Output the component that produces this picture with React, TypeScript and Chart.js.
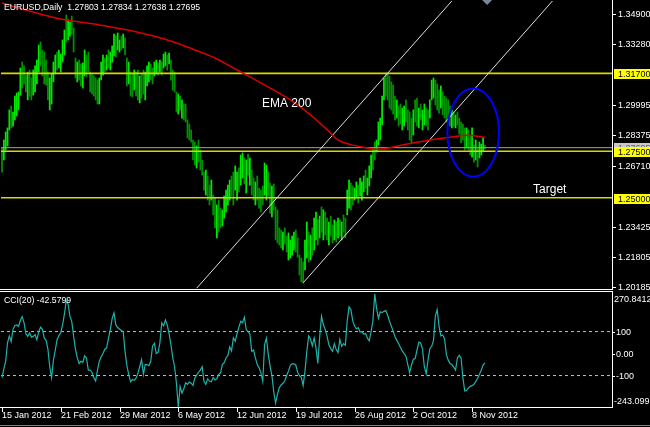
import React, { useEffect, useRef } from "react";
import { Chart, registerables } from "chart.js";

Chart.register(...registerables);

// ---------------- data ----------------
const SYMBOL_HEADER = "EURUSD,Daily  1.27803 1.27834 1.27638 1.27695";
const CCI_HEADER = "CCI(20) -42.5799";

const DATE_TICK_INDEX = [0, 32, 64, 96, 128, 160, 192, 224, 256];
const DATE_TICK_LABELS = [
  "15 Jan 2012", "21 Feb 2012", "29 Mar 2012", "6 May 2012", "12 Jun 2012",
  "19 Jul 2012", "26 Aug 2012", "2 Oct 2012", "8 Nov 2012",
];

const HIGHS = [
  1.2768, 1.2811, 1.2854, 1.2876, 1.2973, 1.2994, 1.2962, 1.3048, 1.3064, 1.3070,
  1.3199, 1.3231, 1.3210, 1.3161, 1.3177, 1.3188, 1.3145, 1.3188, 1.3210, 1.3242,
  1.3323, 1.3339, 1.3296, 1.3285, 1.3242, 1.3177, 1.3145, 1.3167, 1.3231, 1.3269,
  1.3285, 1.3296, 1.3274, 1.3350, 1.3404, 1.3485, 1.3458, 1.3447, 1.3479, 1.3415,
  1.3253, 1.3231, 1.3242, 1.3221, 1.3226, 1.3296, 1.3269, 1.3285, 1.3177, 1.3167,
  1.3156, 1.3145, 1.3134, 1.3145, 1.3231, 1.3269, 1.3253, 1.3269, 1.3296, 1.3285,
  1.3318, 1.3382, 1.3371, 1.3388, 1.3350, 1.3371, 1.3382, 1.3361, 1.3253, 1.3231,
  1.3177, 1.3167, 1.3188, 1.3177, 1.3188, 1.3156, 1.3167, 1.3188, 1.3177, 1.3210,
  1.3231, 1.3221, 1.3199, 1.3231, 1.3242, 1.3226, 1.3242, 1.3231, 1.3274, 1.3285,
  1.3269, 1.3280, 1.3242, 1.3188, 1.3177, 1.3070, 1.3059, 1.3048, 1.3027, 1.3005,
  1.3005, 1.2919, 1.2897, 1.2865, 1.2811, 1.2800, 1.2779, 1.2811, 1.2757, 1.2703,
  1.2638, 1.2649, 1.2617, 1.2568, 1.2595, 1.2514, 1.2498, 1.2461, 1.2487, 1.2444,
  1.2434, 1.2509, 1.2541, 1.2568, 1.2595, 1.2617, 1.2638, 1.2671, 1.2638, 1.2660,
  1.2730, 1.2741, 1.2714, 1.2703, 1.2735, 1.2714, 1.2649, 1.2606, 1.2585, 1.2617,
  1.2552, 1.2541, 1.2563, 1.2687, 1.2676, 1.2638, 1.2579, 1.2563, 1.2574, 1.2450,
  1.2434, 1.2337, 1.2326, 1.2315, 1.2337, 1.2293, 1.2310, 1.2272, 1.2293, 1.2315,
  1.2326, 1.2283, 1.2191, 1.2175, 1.2153, 1.2272, 1.2369, 1.2315, 1.2299, 1.2337,
  1.2390, 1.2423, 1.2380, 1.2401, 1.2450, 1.2434, 1.2423, 1.2390, 1.2369, 1.2401,
  1.2353, 1.2380, 1.2369, 1.2390, 1.2380, 1.2369, 1.2407, 1.2390, 1.2541, 1.2595,
  1.2579, 1.2563, 1.2552, 1.2585, 1.2568, 1.2606, 1.2585, 1.2617, 1.2649, 1.2606,
  1.2671, 1.2730, 1.2768, 1.2800, 1.2811, 1.2908, 1.2929, 1.3048, 1.3145, 1.3172,
  1.3167, 1.3156, 1.3124, 1.3107, 1.3048, 1.3027, 1.2994, 1.3005, 1.2983, 1.2994,
  1.3027, 1.2973, 1.2962, 1.2929, 1.2973, 1.3027, 1.3037, 1.2983, 1.3005, 1.2973,
  1.3005, 1.2983, 1.2973, 1.3027, 1.3134, 1.3145, 1.3134, 1.3113, 1.3080, 1.3102,
  1.3070, 1.3048, 1.3037, 1.3027, 1.2994, 1.2973, 1.2962, 1.2946, 1.2962, 1.2929,
  1.2908, 1.2897, 1.2876, 1.2876, 1.2865, 1.2838, 1.2876, 1.2784, 1.2811, 1.2768,
  1.2800, 1.2789, 1.2822, 1.27834,
];

const LOWS = [
  1.2638, 1.2703, 1.2757, 1.2779, 1.2865, 1.2876, 1.2886, 1.2919, 1.2940, 1.2973,
  1.3053, 1.3091, 1.3113, 1.3070, 1.3027, 1.3048, 1.3027, 1.3053, 1.3070, 1.3113,
  1.3177, 1.3210, 1.3156, 1.3113, 1.3107, 1.3027, 1.2973, 1.3005, 1.3124, 1.3167,
  1.3188, 1.3199, 1.3177, 1.3231, 1.3269, 1.3339, 1.3350, 1.3371, 1.3382, 1.3285,
  1.3145, 1.3124, 1.3134, 1.3102, 1.3091, 1.3156, 1.3151, 1.3177, 1.3070, 1.3059,
  1.3048, 1.3027, 1.3005, 1.3005, 1.3134, 1.3161, 1.3177, 1.3188, 1.3199, 1.3188,
  1.3231, 1.3264, 1.3258, 1.3296, 1.3285, 1.3296, 1.3307, 1.3269, 1.3102, 1.3113,
  1.3048, 1.3043, 1.3080, 1.3048, 1.3027, 1.3011, 1.3037, 1.3059, 1.3027, 1.3102,
  1.3124, 1.3134, 1.3113, 1.3156, 1.3167, 1.3161, 1.3177, 1.3161, 1.3199, 1.3210,
  1.3188, 1.3221, 1.3134, 1.3080, 1.3070, 1.2962, 1.2951, 1.2973, 1.2929, 1.2919,
  1.2908, 1.2822, 1.2811, 1.2800, 1.2703, 1.2676, 1.2660, 1.2692, 1.2649, 1.2622,
  1.2541, 1.2514, 1.2487, 1.2461, 1.2487, 1.2407, 1.2337, 1.2283, 1.2315, 1.2337,
  1.2347, 1.2390, 1.2423, 1.2461, 1.2487, 1.2509, 1.2461, 1.2541, 1.2487, 1.2531,
  1.2568, 1.2606, 1.2574, 1.2525, 1.2622, 1.2568, 1.2514, 1.2487, 1.2461, 1.2487,
  1.2444, 1.2423, 1.2461, 1.2514, 1.2487, 1.2509, 1.2417, 1.2396, 1.2434, 1.2272,
  1.2256, 1.2245, 1.2229, 1.2218, 1.2250, 1.2207, 1.2164, 1.2175, 1.2191, 1.2218,
  1.2207, 1.2180, 1.2083, 1.2046, 1.2040, 1.2110, 1.2175, 1.2153, 1.2164, 1.2191,
  1.2218, 1.2272, 1.2245, 1.2283, 1.2315, 1.2272, 1.2299, 1.2272, 1.2245, 1.2293,
  1.2256, 1.2272, 1.2261, 1.2283, 1.2293, 1.2272, 1.2315, 1.2283, 1.2407, 1.2444,
  1.2434, 1.2461, 1.2487, 1.2498, 1.2471, 1.2509, 1.2487, 1.2531, 1.2552, 1.2514,
  1.2563, 1.2606, 1.2649, 1.2703, 1.2746, 1.2784, 1.2811, 1.2892, 1.3027, 1.3048,
  1.3027, 1.2983, 1.2973, 1.2951, 1.2919, 1.2929, 1.2886, 1.2897, 1.2865, 1.2886,
  1.2908, 1.2865, 1.2811, 1.2795, 1.2838, 1.2908, 1.2886, 1.2876, 1.2919, 1.2865,
  1.2892, 1.2886, 1.2865, 1.2929, 1.3027, 1.3037, 1.3000, 1.2973, 1.2956, 1.2983,
  1.2946, 1.2929, 1.2908, 1.2897, 1.2886, 1.2876, 1.2886, 1.2876, 1.2892, 1.2843,
  1.2795, 1.2811, 1.2757, 1.2768, 1.2757, 1.2730, 1.2719, 1.2692, 1.2703, 1.2665,
  1.2714, 1.2730, 1.2746, 1.27638,
];

// u = bar closed up, d = bar closed down
const BAR_DIRECTION = [
  "duuuuduuuu", "udddudduuu", "uddddduuuu", "duuuuduudd", "dudduudddd",
  "ddduuududu", "uuduududdu", "dduddudduu", "udduududuu", "duddddudud",
  "dddddduddd", "dudduddudd", "uuuuudduud", "uudududdud", "ddduuddudd",
  "dddudduuuu", "ddddduudud", "uudududdud", "dudududduu", "dduuduuudu",
  "uudduuuuud", "dddddudduu", "dddduddudu", "udduuudddu", "dddddududd",
  "ddduddudud", "uuud",
].join("");

const EMA_INDEX = [0, 15, 32, 53, 71, 90, 101, 108, 116, 124, 135, 146, 157, 168, 176, 183, 195, 204, 218, 233, 246, 253, 263];
const EMA_VALUES = [
  1.3549, 1.3506, 1.3463, 1.3431, 1.3398, 1.3350, 1.3312, 1.3285, 1.3253, 1.3210,
  1.3151, 1.3091, 1.3027, 1.2946, 1.2876, 1.2811, 1.2775, 1.2761, 1.2784, 1.2811,
  1.2829, 1.2836, 1.2825,
];

const CCI_VALUES = [
  -110, -70, -35, 49, 80, 55, 110, 128, 130, 124,
  150, 168, 140, 90, 78, 94, 74, 78, 86, 62,
  100, 120, 110, 71, 60, 20, -60, -110, -30, 15,
  64, 82, 95, 130, 180, 240, 225, 170, 145, 80,
  20, -20, -45, -35, -40, -10, -20, -75, -75, -85,
  -110, -125, -75, -35, -15, 0, 20, 26, 70, 110,
  160, 185, 130, 118, 112, 105, 100, 10, -55, -95,
  -128, -118, -122, -112, -90, -60, -28, -95, -50, -50,
  -55, -35, 35, 47, 0, 5, 50, 140, 126, 152,
  130, 90, 40, -20, -60, -135, -243.099, -150, -180, -160,
  -133, -140, -130, -135, -145, -112, -98, -85, -75, -60,
  -126, -140, -115, -125, -128, -110, -120, -115, -95, -88,
  -50, -42, -20, -10, 30, 12, 71, 56, 90, 120,
  147, 140, 165, 109, 100, 88, 10, 16, -20, -50,
  -65, -88, -126, 40, 70, -3, -58, -100, -175, -225,
  -186, -156, -143, -135, -125, -100, -80, -55, -47, -47,
  -52, -85, -100, -108, -145, -80, 10, 80, 66, 35,
  71, 26, -45, 75, 170, 132, 110, 80, 40, 22,
  10, 45, 18, 5, 65, 33, 45, 38, 150, 212,
  200, 150, 125, 112, 118, 98, 100, 88, 92, 70,
  58, 100, 150, 270.8412, 205, 160, 190, 186, 192, 196,
  175, 148, 125, 102, 78, 60, 45, 28, 12, 0,
  -12, -50, -88, -52, -27, -22, 15, 52, 48, 20,
  -60, -92, -30, 22, 33, 60, 170, 200, 125, 80,
  84, 68, -5, -30, -45, -50, -62, -75, -20, -8,
  -20, -110, -170, -168, -156, -149, -146, -140, -128, -112,
  -95, -75, -52, -42.5799,
];

const PRICE_AXIS_TICKS = [1.349, 1.3328, 1.29995, 1.28375, 1.2671, 1.23425, 1.21805, 1.20185];
const PRICE_AXIS_LABELS = ["1.34900", "1.33280", "1.29995", "1.28375", "1.26710", "1.23425", "1.21805", "1.20185"];
const LEVEL_VALUES = [1.317, 1.275, 1.25];
const LEVEL_LABELS = ["1.31700", "1.27500", "1.25000"];
const BID_PRICE = 1.27695;
const BID_LABEL = "1.27695";

const CHANNEL_UPPER_INDEX = [106.0, 245.5];
const CHANNEL_UPPER_PRICE = [1.2012, 1.3566];
const CHANNEL_LOWER_INDEX = [164.1, 300.3];
const CHANNEL_LOWER_PRICE = [1.2042, 1.3566];

const ELLIPSE_INDEX = 256.6;
const ELLIPSE_PRICE = 1.2851;
const ELLIPSE_HALF_BARS = 14.05;
const ELLIPSE_HALF_PRICE = 0.0238;

// chart-shift marker (bar index where the shift triangle sits)
const SHIFT_MARK_INDEX = 264.2;

const NOTE_TEXTS = ["EMA 200", "Target"];
const NOTE_INDEX = [141.6, 289.2];
const NOTE_PRICE = [1.3005, 1.2541];

const CCI_LEVELS = [100, -100];
const CCI_AXIS_TICKS = [100, 0, -100];
const CCI_AXIS_LABELS = ["100", "0.00", "-100"];
const CCI_MAX = 270.8412;
const CCI_MIN = -243.099;
const CCI_MAX_LABEL = "270.8412";
const CCI_MIN_LABEL = "-243.099";

const PRICE_MIN = 1.20078;
const PRICE_MAX = 1.35601;
const INDEX_MIN = -0.545;
const INDEX_MAX = 332.2;

// ---------------- styling ----------------
const FONT = '9px "Liberation Sans", Arial, sans-serif';
const HEADER_FONT = '8.7px "Liberation Sans", Arial, sans-serif';
const NOTE_FONT = '12px "Liberation Sans", Arial, sans-serif';
const FG = "#ffffff";
const UP_COLOR = "#00e800";
const DOWN_COLOR = "#009000";
const AXIS_W = 38;

function hline(ctx: CanvasRenderingContext2D, x1: number, x2: number, y: number, color: string) {
  ctx.strokeStyle = color;
  ctx.lineWidth = 1;
  ctx.beginPath();
  ctx.moveTo(x1, Math.round(y) + 0.5);
  ctx.lineTo(x2, Math.round(y) + 0.5);
  ctx.stroke();
}
function vline(ctx: CanvasRenderingContext2D, x: number, y1: number, y2: number, color: string) {
  ctx.strokeStyle = color;
  ctx.lineWidth = 1;
  ctx.beginPath();
  ctx.moveTo(Math.round(x) + 0.5, y1);
  ctx.lineTo(Math.round(x) + 0.5, y2);
  ctx.stroke();
}

const mainOverlay = {
  id: "mainOverlay",
  afterDatasetsDraw(chart: any) {
    const { ctx, chartArea, scales } = chart;
    const xs = scales.x;
    const ys = scales.y;
    ctx.save();
    ctx.beginPath();
    ctx.rect(chartArea.left, chartArea.top, chartArea.right - chartArea.left, chartArea.bottom - chartArea.top);
    ctx.clip();
    // ellipse object
    const cx = xs.getPixelForValue(ELLIPSE_INDEX);
    const cy = ys.getPixelForValue(ELLIPSE_PRICE);
    const rx = Math.abs(xs.getPixelForValue(ELLIPSE_INDEX + ELLIPSE_HALF_BARS) - cx);
    const ry = Math.abs(ys.getPixelForValue(ELLIPSE_PRICE + ELLIPSE_HALF_PRICE) - cy);
    ctx.beginPath();
    ctx.ellipse(cx, cy, rx, ry, 0, 0, Math.PI * 2);
    ctx.strokeStyle = "#0000ff";
    ctx.lineWidth = 2;
    ctx.stroke();
    // text objects
    ctx.font = NOTE_FONT;
    ctx.fillStyle = FG;
    ctx.textAlign = "left";
    ctx.textBaseline = "middle";
    NOTE_TEXTS.forEach((t, i) => {
      ctx.fillText(t, xs.getPixelForValue(NOTE_INDEX[i]), ys.getPixelForValue(NOTE_PRICE[i]));
    });
    ctx.restore();
  },
  afterDraw(chart: any) {
    const { ctx, chartArea, scales } = chart;
    const xs = scales.x;
    const ys = scales.y;
    const W = chart.width;
    ctx.save();
    // chart shift marker
    const sx = xs.getPixelForValue(SHIFT_MARK_INDEX);
    ctx.fillStyle = "#778899";
    ctx.beginPath();
    ctx.moveTo(sx - 5, 0);
    ctx.lineTo(sx + 5, 0);
    ctx.lineTo(sx, 5);
    ctx.closePath();
    ctx.fill();
    // header
    ctx.font = HEADER_FONT;
    ctx.fillStyle = FG;
    ctx.textAlign = "left";
    ctx.textBaseline = "middle";
    ctx.fillText(SYMBOL_HEADER, 4, 8);
    ctx.font = FONT;
    // frame
    vline(ctx, chartArea.right, 0, chartArea.bottom + 1, FG);
    hline(ctx, 0, chartArea.right, chartArea.bottom, FG);
    // price axis
    const ax = chartArea.right + 1;
    PRICE_AXIS_TICKS.forEach((v, i) => {
      const y = ys.getPixelForValue(v);
      hline(ctx, ax, ax + 3, y, FG);
      ctx.fillStyle = FG;
      ctx.fillText(PRICE_AXIS_LABELS[i], ax + 5, y + 0.5);
    });
    // bid label
    {
      const y = ys.getPixelForValue(BID_PRICE);
      ctx.fillStyle = "#c8c8c8";
      ctx.fillRect(ax + 1, Math.round(y) - 5, W - ax - 1, 10);
      ctx.fillStyle = "#606060";
      ctx.fillText(BID_LABEL, ax + 5, y + 0.5);
    }
    // level labels
    LEVEL_VALUES.forEach((v, i) => {
      const y = ys.getPixelForValue(v);
      ctx.fillStyle = "#ffff00";
      ctx.fillRect(ax + 1, Math.round(y) - 4, W - ax - 1, 10);
      ctx.fillStyle = "#000";
      ctx.fillText(LEVEL_LABELS[i], ax + 5, y + 1.5);
    });
    ctx.restore();
  },
};

const cciOverlay = {
  id: "cciOverlay",
  afterDraw(chart: any) {
    const { ctx, chartArea, scales } = chart;
    const xs = scales.x;
    const ys = scales.y;
    ctx.save();
    ctx.font = HEADER_FONT;
    ctx.fillStyle = FG;
    ctx.textAlign = "left";
    ctx.textBaseline = "middle";
    ctx.fillText(CCI_HEADER, 4, chartArea.top + 7);
    ctx.font = FONT;
    // frame
    hline(ctx, 0, chartArea.right, 0, FG);
    vline(ctx, chartArea.right, 0, chartArea.bottom + 1, FG);
    hline(ctx, 0, chartArea.right + 1, chartArea.bottom, FG);
    hline(ctx, 0, chart.width, chart.height - 2, "#808080");
    // cci axis
    const ax = chartArea.right + 1;
    CCI_AXIS_TICKS.forEach((v, i) => {
      const y = ys.getPixelForValue(v);
      hline(ctx, ax, ax + 2, y, FG);
      ctx.fillStyle = FG;
      ctx.fillText(CCI_AXIS_LABELS[i], ax + 3, y + 0.5);
    });
    ctx.fillText(CCI_MAX_LABEL, ax + 1, ys.getPixelForValue(CCI_MAX) + 6);
    ctx.fillText(CCI_MIN_LABEL, ax + 1, ys.getPixelForValue(CCI_MIN) - 5);
    // time axis
    DATE_TICK_INDEX.forEach((v, i) => {
      const x = xs.getPixelForValue(v);
      vline(ctx, x, chartArea.bottom + 1, chartArea.bottom + 5, FG);
      ctx.fillStyle = FG;
      ctx.fillText(DATE_TICK_LABELS[i], Math.round(x), chartArea.bottom + 9);
    });
    ctx.restore();
  },
};

function hiddenAxis(extra: any) {
  return {
    type: "linear",
    ticks: { display: false },
    grid: { display: false },
    border: { display: false },
    ...extra,
  };
}

export default function App() {
  const mainRef = useRef<HTMLCanvasElement>(null);
  const cciRef = useRef<HTMLCanvasElement>(null);

  useEffect(() => {
    const barData = HIGHS.map((h, i) => ({ x: i, y: [LOWS[i], h] }));
    const barColors = HIGHS.map((_, i) => (BAR_DIRECTION[i] === "d" ? DOWN_COLOR : UP_COLOR));
    const span = (v: number) => [{ x: INDEX_MIN, y: v }, { x: INDEX_MAX, y: v }];

    const main = new Chart(mainRef.current as HTMLCanvasElement, {
      type: "bar",
      data: {
        datasets: [
          {
            type: "line",
            data: EMA_INDEX.map((x, i) => ({ x, y: EMA_VALUES[i] })),
            borderColor: "#d80000",
            borderWidth: 1.5,
            pointRadius: 0,
            cubicInterpolationMode: "monotone",
            order: 1,
          },
          {
            type: "line",
            data: CHANNEL_UPPER_INDEX.map((x, i) => ({ x, y: CHANNEL_UPPER_PRICE[i] })),
            borderColor: "#e0e0e0",
            borderWidth: 1,
            pointRadius: 0,
            order: 2,
          },
          {
            type: "line",
            data: CHANNEL_LOWER_INDEX.map((x, i) => ({ x, y: CHANNEL_LOWER_PRICE[i] })),
            borderColor: "#e0e0e0",
            borderWidth: 1,
            pointRadius: 0,
            order: 2,
          },
          {
            type: "line",
            data: span(BID_PRICE),
            borderColor: "#9aa4ae",
            borderWidth: 1,
            pointRadius: 0,
            order: 3,
          },
          ...LEVEL_VALUES.map((v) => ({
            type: "line",
            data: span(v),
            borderColor: "#d8d800",
            borderWidth: 1.6,
            pointRadius: 0,
            order: 3,
          })),
          {
            type: "bar",
            data: barData,
            backgroundColor: barColors,
            borderWidth: 0,
            barThickness: 1.1,
            order: 10,
          },
        ] as any,
      },
      options: {
        responsive: false,
        maintainAspectRatio: false,
        animation: false,
        devicePixelRatio: 1,
        layout: { padding: { left: 1, top: 1, right: 0, bottom: 2 } },
        plugins: { legend: { display: false }, tooltip: { enabled: false } },
        scales: {
          x: { type: "linear", min: INDEX_MIN, max: INDEX_MAX, display: false, offset: false },
          y: hiddenAxis({
            position: "right",
            min: PRICE_MIN,
            max: PRICE_MAX,
            afterFit: (s: any) => { s.width = AXIS_W; },
          }),
        } as any,
      },
      plugins: [mainOverlay],
    });

    const cci = new Chart(cciRef.current as HTMLCanvasElement, {
      type: "line",
      data: {
        datasets: [
          {
            data: CCI_VALUES.map((v, i) => ({ x: i, y: v })),
            borderColor: "#20b2aa",
            borderWidth: 1.2,
            pointRadius: 0,
            order: 1,
          },
          ...CCI_LEVELS.map((v) => ({
            data: span(v),
            borderColor: "#c0c0c0",
            borderWidth: 1,
            borderDash: [3, 3],
            pointRadius: 0,
            order: 2,
          })),
        ] as any,
      },
      options: {
        responsive: false,
        maintainAspectRatio: false,
        animation: false,
        devicePixelRatio: 1,
        layout: { padding: { left: 1, top: 3, right: 0, bottom: 0 } },
        plugins: { legend: { display: false }, tooltip: { enabled: false } },
        scales: {
          x: hiddenAxis({
            min: INDEX_MIN,
            max: INDEX_MAX,
            position: "bottom",
            afterFit: (s: any) => { s.height = 20; },
          }),
          y: hiddenAxis({
            position: "right",
            min: CCI_MIN,
            max: CCI_MAX,
            afterFit: (s: any) => { s.width = AXIS_W; },
          }),
        } as any,
      },
      plugins: [cciOverlay],
    });

    return () => {
      main.destroy();
      cci.destroy();
    };
  }, []);

  return (
    <div style={{ position: "fixed", left: 0, top: 0, width: 650, height: 427, background: "#000", overflow: "hidden" }}>
      <canvas ref={mainRef} width={650} height={291} style={{ position: "absolute", left: 0, top: 0, width: 650, height: 291 }} />
      <canvas ref={cciRef} width={650} height={136} style={{ position: "absolute", left: 0, top: 291, width: 650, height: 136 }} />
    </div>
  );
}
